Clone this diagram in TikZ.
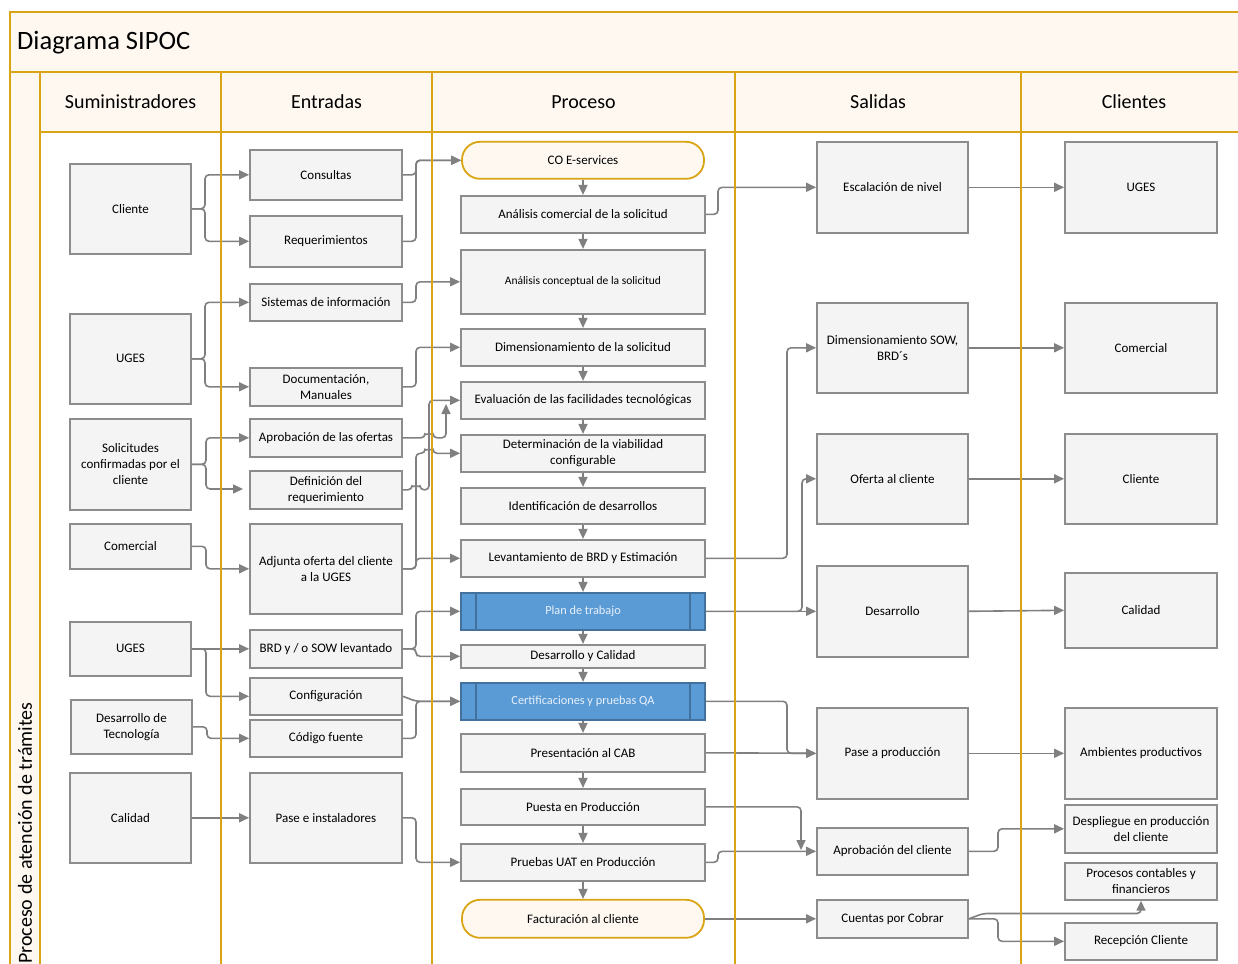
\documentclass[tikz,border=0pt]{standalone}
\usepackage{fontspec}
\setmainfont{Carlito}
\usetikzlibrary{arrows.meta}

\definecolor{gold}{RGB}{218,165,20}
\definecolor{cream}{RGB}{254,248,241}
\definecolor{boxfill}{RGB}{244,244,244}
\definecolor{boxline}{RGB}{140,140,140}
\definecolor{conncol}{RGB}{128,128,128}
\definecolor{task}{RGB}{91,155,213}
\definecolor{taskline}{RGB}{65,113,156}
\definecolor{tasktext}{RGB}{232,240,250}

% box given by its corners: [options]{name}{x1}{y1}{x2}{y2}{text}
\newcommand\mkbox[7][]{%
  \node[box,#1,minimum width={#5pt-#3pt},minimum height={#6pt-#4pt}]
    (#2) at ({(#3+#5)/2},{(#4+#6)/2+0.8}) {#7};}

\begin{document}
\begin{tikzpicture}[x=1pt,y=-1pt,
  box/.style={draw=boxline, fill=boxfill, line width=1.8pt, inner sep=1pt,
    align=center, font=\fontsize{13}{16}\selectfont, text=black},
  term/.style={draw=gold, fill=cream, rounded corners=18pt},
  sub/.style={draw=taskline, fill=task, text=tasktext, font=\fontsize{12.3}{15}\selectfont},
  conn/.style={draw=conncol, line width=1.6pt, rounded corners=4pt,
    -{Triangle[length=10pt,width=9pt]}},
  lane/.style={draw=gold, line width=2.4pt},
  head/.style={font=\fontsize{20}{24}\selectfont, inner sep=0pt},
]
\useasboundingbox (0,0) rectangle (1238,963);
\clip (0,0) rectangle (1238,963);
\fill[white] (0,0) rectangle (1238,963);

% pool background
\fill[cream] (10,12) rectangle (1250,72);
\fill[cream] (10,72) rectangle (40,975);
\fill[cream] (40,72) rectangle (1250,132);

% titles
\node[anchor=west, inner sep=0pt, font=\fontsize{26.5}{30}\selectfont] (title) at (17,43) {Diagrama SIPOC};
\node[head, rotate=90, anchor=west] (lanelbl) at (25,964) {Proceso de atención de trámites};
\node[head] (hS) at (130.5,102) {Suministradores};
\node[head] (hE) at (326.5,102) {Entradas};
\node[head] (hP) at (583.5,102) {Proceso};
\node[head] (hO) at (878,102) {Salidas};
\node[head] (hC) at (1134,102) {Clientes};

% Suministradores
\mkbox{sCli}{70}{163}{191}{253}{Cliente}
\mkbox{sUg1}{70}{313}{191}{403}{UGES}
\mkbox{sSol}{70}{418}{191}{509}{Solicitudes\\confirmadas por el\\cliente}
\mkbox{sCom}{70}{523}{191}{568}{Comercial}
\mkbox{sUg2}{70}{621}{191}{675}{UGES}
\mkbox{sDT}{71}{699}{192}{753}{Desarrollo de\\Tecnología}
\mkbox{sCal}{70}{772}{191}{862}{Calidad}

% Entradas
\mkbox{eCon}{250}{149}{402}{199}{Consultas}
\mkbox{eReq}{250}{215}{402}{266}{Requerimientos}
\mkbox{eSis}{250}{283}{402}{320}{Sistemas de información}
\mkbox{eDoc}{250}{367}{402}{405}{Documentación,\\Manuales}
\mkbox{eApr}{250}{418}{402}{456}{Aprobación de las ofertas}
\mkbox{eDef}{250}{470}{402}{508}{Definición del\\requerimiento}
\mkbox{eAdj}{250}{523}{402}{613}{Adjunta oferta del cliente\\a la UGES}
\mkbox{eBRD}{250}{629}{402}{667}{BRD y / o SOW levantado}
\mkbox{eCfg}{250}{677}{402}{714}{Configuración}
\mkbox{eCod}{250}{719}{402}{756}{Código fuente}
\mkbox{ePas}{250}{772}{402}{862}{Pase e instaladores}

% Proceso
\mkbox[term]{pCO}{462}{141}{704}{178}{CO E-services}
\mkbox{pAC}{461}{195}{705}{232}{Análisis comercial de la solicitud}
\mkbox[font=\fontsize{11.5}{14}\selectfont]{pAN}{461}{249}{705}{313}{Análisis conceptual de la solicitud}
\mkbox{pDim}{461}{328}{705}{365}{Dimensionamiento de la solicitud}
\mkbox{pEva}{461}{381}{705}{418}{Evaluación de las facilidades tecnológicas}
\mkbox{pDet}{461}{434}{705}{471}{Determinación de la viabilidad\\configurable}
\mkbox{pIde}{461}{487}{705}{523}{Identificación de desarrollos}
\mkbox{pLev}{461}{539}{705}{576}{Levantamiento de BRD y Estimación}
\mkbox[sub]{pPlan}{461}{592}{705}{629}{Plan de trabajo}
\mkbox{pDyC}{461}{644}{705}{667}{Desarrollo y Calidad}
\mkbox[sub]{pCert}{461}{682}{705}{719}{Certificaciones y pruebas QA}
\mkbox{pCAB}{461}{733}{705}{771}{Presentación al CAB}
\mkbox{pPue}{461}{788}{705}{824}{Puesta en Producción}
\mkbox{pUAT}{461}{843}{705}{880}{Pruebas UAT en Producción}
\mkbox[term]{pFac}{462}{899}{704}{937}{Facturación al cliente}

% subprocess side bars
\foreach \n in {pPlan,pCert} {
  \draw[taskline, line width=1.5pt] ([xshift=16pt]\n.north west) -- ([xshift=16pt]\n.south west);
  \draw[taskline, line width=1.5pt] ([xshift=-16pt]\n.north east) -- ([xshift=-16pt]\n.south east);
}

% Salidas
\mkbox{oEsc}{817}{141}{968}{232}{Escalación de nivel}
\mkbox{oSOW}{817}{302}{968}{392}{Dimensionamiento SOW,\\BRD´s}
\mkbox{oOfe}{817}{433}{968}{523}{Oferta al cliente}
\mkbox{oDes}{817}{565}{968}{656}{Desarrollo}
\mkbox{oPas}{817}{707}{968}{798}{Pase a producción}
\mkbox{oApr}{817}{827}{968}{874}{Aprobación del cliente}
\mkbox{oCxC}{817}{899}{968}{937}{Cuentas por Cobrar}

% Clientes
\mkbox{cUG}{1065}{141}{1217}{232}{UGES}
\mkbox{cCom}{1065}{302}{1217}{392}{Comercial}
\mkbox{cCli}{1065}{433}{1217}{523}{Cliente}
\mkbox{cCal}{1065}{572}{1217}{647}{Calidad}
\mkbox{cAmb}{1065}{707}{1217}{798}{Ambientes productivos}
\mkbox{cDes}{1065}{804}{1217}{852}{Despliegue en producción\\del cliente}
\mkbox{cPro}{1065}{862}{1217}{899}{Procesos contables y\\financieros}
\mkbox{cRec}{1065}{922}{1217}{959}{Recepción Cliente}

% free connector ends
\coordinate (defTip) at (243,489);
\coordinate (aprTip) at (446,404);
\coordinate (pueTip) at (801,850);

% process chain
\foreach \a/\b in {pCO/pAC,pAC/pAN,pAN/pDim,pDim/pEva,pEva/pDet,pDet/pIde,pIde/pLev,
  pLev/pPlan,pPlan/pDyC,pDyC/pCert,pCert/pCAB,pCAB/pPue,pPue/pUAT,pUAT/pFac}
  \draw[conn] (\a.south) -- (\b.north);

% suppliers to inputs
\draw[conn] (sCli.east) -- (205,208.8) |- (eCon.west);
\draw[conn] (sCli.east) -- (205,208.8) |- (eReq.west);
\draw[conn] (sUg1.east) -- (205,358.8) |- (eSis.west);
\draw[conn] (sUg1.east) -- (205,358.8) |- (eDoc.west);
\draw[conn] (sSol.east) -- (206,464.3) |- (eApr.west);
\draw[conn] (sSol.east) -- (206,464.3) |- (defTip);
\draw[conn] (sCom.east) -- (206,546.3) |- (eAdj.west);
\draw[conn] (sUg2.east) -- (eBRD.west);
\draw[conn] (sUg2.east) -- (206,648.8) |- (eCfg.west);
\draw[conn] (sDT.east) -- (207,726.8) |- (eCod.west);
\draw[conn] (sCal.east) -- (ePas.west);

% inputs to process
\draw[conn] (eCon.east) -- (416,174.8) |- (pCO.west);
\draw[conn] (eReq.east) -- (416,241.3) |- (pCO.west);
\draw[conn] (eSis.east) -- (416,302.3) |- (pAN.west);
\draw[conn] (eDoc.east) -- (416,386.8) |- (pDim.west);
\draw[conn] (eApr.east) -- (425,437.8) arc[start angle=180,end angle=360,radius=4]
  -- (446,437.8) -- (aprTip);
\draw[conn] (eDef.east) -- (412,489.8) arc[start angle=180,end angle=360,radius=4]
  -- (429,489.8) |- (pEva.west);
\draw[conn] (eAdj.east) -- (416,568.8) -- (416,453.3) -- (425,453.3)
  arc[start angle=180,end angle=360,radius=4] -- (pDet.west);
\draw[conn] (eAdj.east) -- (416,568.8) |- (pLev.west);
\draw[conn] (eBRD.east) -- (416,648.8) |- (pPlan.west);
\draw[conn] (eBRD.east) -- (416,648.8) |- (pDyC.west);
\draw[conn] (eCfg.east) -- (416,701.3) -- (pCert.west);
\draw[conn] (eCod.east) -- (416,738.3) |- (pCert.west);
\draw[conn] (ePas.east) -- (416,817.8) |- (pUAT.west);

% process to outputs
\draw[conn] (pAC.east) -- (718,214.3) |- (oEsc.west);
\draw[conn] (pLev.east) -- (787,558.3) |- (oSOW.west);
\draw[conn] (pPlan.east) -- (oDes.west);
\draw[conn] (pPlan.east) -- (802,611.3) |- (oOfe.west);
\draw[conn] (pCert.east) -- (787,701.3) |- (oPas.west);
\draw[conn] (pCAB.east) -- (oPas.west);
\draw[conn] (pPue.east) -| (pueTip);
\draw[conn] (pUAT.east) -- (718,862.3) |- (oApr.west);
\draw[conn] (pFac.east) -- (oCxC.west);

% outputs to clients
\draw[conn] (oEsc.east) -- (cUG.west);
\draw[conn] (oSOW.east) -- (cCom.west);
\draw[conn] (oOfe.east) -- (cCli.west);
\draw[conn] (oDes.east) -- (cCal.west);
\draw[conn] (oPas.east) -- (cAmb.west);
\draw[conn] (oApr.east) -- (998,851.3) |- (cDes.west);
\draw[conn] (oCxC.east) -- (983,913.5) -| (cPro.south);
\draw[conn] (oCxC.east) -- (998,918.8) |- (cRec.west);

% pool and lane borders
\draw[lane] (1250,12) -- (10,12) -- (10,975);
\draw[lane] (10,72) -- (1250,72);
\draw[lane] (40,132) -- (1250,132);
\foreach \x in {40,221,432,735,1021} \draw[lane] (\x,72) -- (\x,975);
\end{tikzpicture}
\end{document}
